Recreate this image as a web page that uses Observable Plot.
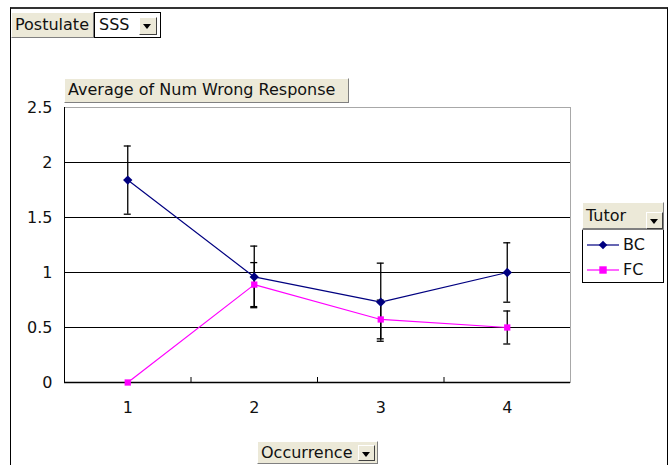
<!DOCTYPE html>
<html>
<head>
<meta charset="utf-8">
<script src="https://cdn.jsdelivr.net/npm/d3@7"></script>
<script src="https://cdn.jsdelivr.net/npm/@observablehq/plot@0.6"></script>
<style>
  html, body { margin: 0; padding: 0; background: #fff; }
  #wrap { position: relative; width: 670px; height: 465px; overflow: hidden; font-family: "DejaVu Sans", Verdana, sans-serif; font-size: 16px; color: #111; }
  #wrap svg.plot { position: absolute; left: 0; top: 0; }
  .btn { position: absolute; box-sizing: border-box; background: #ece9d8; border: 1px solid #fff; border-right-color: #808080; border-bottom-color: #808080; line-height: 22px; padding-left: 3px; white-space: nowrap; }
  .drop { position: absolute; box-sizing: border-box; background: #ece9d8; border: 1px solid #fff; border-right-color: #404040; border-bottom-color: #404040; }
  .drop::after { content: ""; position: absolute; left: 3px; top: 6px; border-left: 4.5px solid transparent; border-right: 4.5px solid transparent; border-top: 5px solid #000; }
  .outer { position: absolute; left: 10px; top: 7px; width: 658px; height: 470px; box-sizing: border-box; border: 2px solid #333; border-left-width: 1px; border-left-color: #000; border-right-width: 1px; border-right-color: #000; }
</style>
</head>
<body>
<div id="wrap">
  <div class="outer"></div>
</div>
<script>
// ---- data ----
const occurrence = [1, 2, 3, 4];
const tutors = ["BC", "FC"];
const bcMean = [1.84, 0.96, 0.73, 1.0];
const bcErr  = [0.31, 0.28, 0.355, 0.27];
const fcMean = [0, 0.89, 0.573, 0.5];
const fcErr  = [0, 0.2, 0.176, 0.15];
const yTicks = [0, 0.5, 1, 1.5, 2, 2.5];
const gridValues = [0.5, 1, 1.5, 2];
const xDomain = [0.5, 4.5];
const catBounds = [1.5, 2.5, 3.5];
const colors = { BC: "#000080", FC: "#ff00ff" };

const rows = [];
occurrence.forEach((o, i) => {
  rows.push({ occ: o, tutor: "BC", mean: bcMean[i], err: bcErr[i] });
  rows.push({ occ: o, tutor: "FC", mean: fcMean[i], err: fcErr[i] });
});
const errRows = rows.filter(d => d.err > 0);

const chart = Plot.plot({
  width: 670,
  height: 465,
  marginLeft: 64,
  marginRight: 100,
  marginTop: 107,
  marginBottom: 83,
  style: { fontFamily: "DejaVu Sans, Verdana, sans-serif", fontSize: "16px", color: "#111", background: "transparent" },
  x: { type: "linear", domain: xDomain, label: null },
  y: { domain: [0, 2.5], label: null },
  color: { domain: tutors, range: tutors.map(t => colors[t]) },
  marks: [
    Plot.frame({ stroke: "#a8a8a8" }),
    Plot.ruleY(gridValues, { stroke: "#000", strokeWidth: 1 }),
    Plot.ruleX([xDomain[0]], { stroke: "#000" }),
    Plot.ruleY([0], { stroke: "#000", strokeWidth: 1.5 }),
    Plot.ruleX(catBounds, { y1: 0, y2: 0, insetBottom: 5, stroke: "#000" }),
    Plot.axisY(yTicks, { tickSize: 0, tickPadding: 12, tickFormat: d => String(d), fontSize: 16, label: null }),
    Plot.axisX(occurrence, { tickSize: 0, tickPadding: 19, tickFormat: d => String(d), fontSize: 16, label: null }),
    // error bars
    Plot.ruleX(errRows, { x: "occ", y1: d => d.mean - d.err, y2: d => d.mean + d.err, stroke: "#000", strokeWidth: 1.3 }),
    Plot.ruleY(errRows, { x1: "occ", x2: "occ", y: d => d.mean + d.err, insetLeft: -3.5, insetRight: -3.5, stroke: "#000", strokeWidth: 1.3 }),
    Plot.ruleY(errRows, { x1: "occ", x2: "occ", y: d => d.mean - d.err, insetLeft: -3.5, insetRight: -3.5, stroke: "#000", strokeWidth: 1.3 }),
    // lines
    Plot.line(rows, { x: "occ", y: "mean", z: "tutor", stroke: "tutor", strokeWidth: 1.2 }),
    Plot.dot(rows.filter(d => d.tutor === "BC"), { x: "occ", y: "mean", symbol: "diamond2", r: 4.2, fill: "tutor", stroke: "none" }),
    Plot.dot(rows.filter(d => d.tutor === "FC"), { x: "occ", y: "mean", symbol: "square2", r: 4, fill: "tutor", stroke: "none" })
  ]
});
chart.classList.add("plot");
const wrap = document.getElementById("wrap");
wrap.appendChild(chart);

function el(html) { const d = document.createElement("div"); d.innerHTML = html; return d.firstElementChild; }

// page field
wrap.appendChild(el(`<div class="btn" style="left:11px;top:12px;width:83px;height:26px;line-height:24px;">Postulate</div>`));
wrap.appendChild(el(`<div style="position:absolute;left:94px;top:12px;width:67px;height:26px;box-sizing:border-box;background:#fff;border:1px solid #000;line-height:24px;padding-left:4px;">SSS</div>`));
wrap.appendChild(el(`<div class="drop" style="left:139px;top:17px;width:18px;height:18px;"></div>`));
// data field
wrap.appendChild(el(`<div class="btn" style="left:64px;top:78px;width:285px;height:25px;">Average of Num Wrong Response</div>`));
// category field
wrap.appendChild(el(`<div class="btn" style="left:257px;top:441px;width:121px;height:23px;line-height:21px;">Occurrence</div>`));
wrap.appendChild(el(`<div class="drop" style="left:358px;top:445px;width:17px;height:16px;"></div>`));
// legend
const leg = el(`<div style="position:absolute;left:582px;top:202px;width:82px;height:81px;box-sizing:border-box;border:1px solid #000;background:#fff;"></div>`);
wrap.appendChild(leg);
wrap.appendChild(el(`<div class="btn" style="left:582px;top:202px;width:82px;height:28px;line-height:26px;border-bottom:2px solid #808080;">Tutor</div>`));
wrap.appendChild(el(`<div class="drop" style="left:646px;top:212px;width:17px;height:17px;"></div>`));
tutors.forEach((t, i) => {
  const y = 245 + i * 25;
  const sym = t === "BC"
    ? `<path d="M16,${-4.3}L20.3,0L16,4.3L11.7,0Z" fill="${colors[t]}"/>`
    : `<rect x="12.3" y="-3.7" width="7.4" height="7.4" fill="${colors[t]}"/>`;
  wrap.appendChild(el(`<div style="position:absolute;left:587px;top:${y - 10}px;height:20px;">
    <svg width="34" height="20" style="position:absolute;left:0;top:0;overflow:visible"><g transform="translate(0,10)"><line x1="0" x2="32" y1="0" y2="0" stroke="${colors[t]}" stroke-width="1.2"/>${sym}</g></svg>
    <span style="position:absolute;left:36px;top:0;line-height:20px;">${t}</span></div>`));
});
</script>
</body>
</html>
